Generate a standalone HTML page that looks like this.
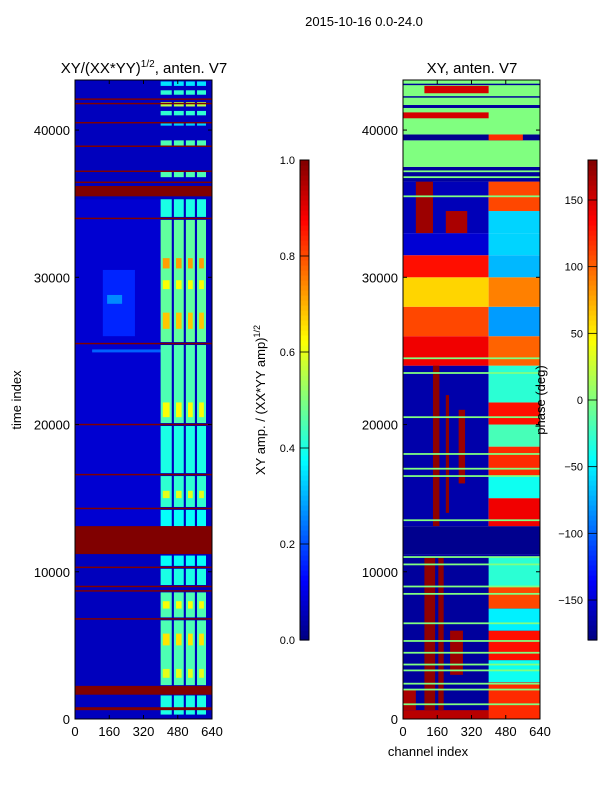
<!DOCTYPE html>
<html><head><meta charset="utf-8"><style>
body{margin:0;background:#fff;font-family:"Liberation Sans","DejaVu Sans",sans-serif}
svg text{font-family:"Liberation Sans","DejaVu Sans",sans-serif}
</style></head><body>
<svg id="fig" width="600" height="800" viewBox="0 0 600 800" xmlns="http://www.w3.org/2000/svg">
<rect width="600" height="800" fill="#fff"/>
<text x="364" y="26" font-size="13" text-anchor="middle">2015-10-16 0.0-24.0</text>
<text x="144" y="73" font-size="15" text-anchor="middle">XY/(XX*YY)<tspan font-size="10" dy="-6">1/2</tspan><tspan dy="6">, anten. V7</tspan></text>
<text x="472" y="73" font-size="15" text-anchor="middle">XY, anten. V7</text>
<text transform="translate(21,400) rotate(-90)" font-size="13" text-anchor="middle">time index</text>
<text x="428" y="756" font-size="13" text-anchor="middle">channel index</text>
<text transform="translate(265,400) rotate(-90)" font-size="13" text-anchor="middle">XY amp. / (XX*YY amp)<tspan font-size="9" dy="-5">1/2</tspan></text>
<g id="left"></g>
<g id="right"></g>
<text transform="translate(545,400) rotate(-90)" font-size="13" text-anchor="middle">phase (deg)</text>
<g id="cbars"></g>
</svg>
<script>
// ---- data ----
const tMax = 43400, chMax = 640;
const xTicks = [0,160,320,480,640];
const yTicks = [0,10000,20000,30000,40000];
const ampTicks = [0.0,0.2,0.4,0.6,0.8,1.0];
const phaseTicks = [-150,-100,-50,0,50,100,150];
// amplitude segments: [tStart,tEnd,chStart,chEnd,value]
const ampBase = [[0,43400,0,640,0.06],[13100,35300,0,400,0.08],[26000,30500,130,280,0.16],[28200,28800,150,220,0.26],[24900,25100,80,400,0.22]];
const ampCols = [[400,452],[462,508],[518,560],[570,612]];
const ampBands = [[300,1600,0.4],[2300,6700,0.45],[6900,8600,0.45],[9100,10200,0.4],[10400,11100,0.38],[13100,14200,0.38],[14400,16500,0.42],[16700,19900,0.4],[20100,25400,0.45],[25600,33900,0.47],[34100,35300,0.4],[36800,37200,0.45],[38900,39300,0.45],[40300,40500,0.33],[41000,41300,0.42],[41600,41900,0.55],[42400,42700,0.42],[43000,43300,0.35]];
const ampHot = [[5000,5800,0.65],[20500,21500,0.62],[26500,27600,0.68],[29200,29800,0.62],[30600,31300,0.72],[2800,3400,0.6],[7500,8000,0.62],[15000,15500,0.6]];
const ampRed = [[600,800],[1650,2250],[6750,6850],[8650,8750],[8950,9050],[10250,10350],[11200,13100],[14250,14350],[16550,16650],[19950,20050],[25450,25550],[33950,34050],[35500,36200],[36400,36500],[37150,37250],[38850,38950],[40450,40550],[41750,41850],[42050,42150]];
// phase segments (deg): [tStart,tEnd,chStart,chEnd,value]
const phaseSegs = [
[0,11200,0,640,-170],[11200,13100,0,640,-175],
[0,600,0,400,160],[0,2500,400,640,120],[2500,4000,400,640,-40],[4000,6000,400,640,130],[6000,7500,400,640,-50],[7500,9000,400,640,110],[9000,11000,400,640,-30],
[600,11000,100,150,175],[600,11000,165,190,175],[3000,6000,220,280,170],[600,2000,0,60,165],
[13100,24000,0,400,-165],[13100,15000,400,640,140],[15000,16500,400,640,-40],[16500,18500,400,640,120],[18500,20000,400,640,-20],[20000,21500,400,640,130],[21500,24000,400,640,-30],
[13100,24000,140,170,175],[14000,22000,200,215,175],[16000,21000,260,290,170],
[24000,26000,0,400,140],[26000,28000,0,400,110],[28000,30000,0,400,60],[30000,31500,0,400,130],[31500,33000,0,400,-150],
[24000,26000,400,640,100],[26000,28000,400,640,-80],[28000,30000,400,640,90],[30000,31500,400,640,-70],[31500,33000,400,640,-60],
[33000,36500,0,400,-160],[33000,36500,60,140,170],[33000,34500,200,300,165],[33000,34500,400,640,-60],[34500,36500,400,640,110],
[36500,37500,0,640,-170],[37500,39300,0,640,0],[39300,39700,0,640,-175],[39700,43400,0,640,0],
[39300,39700,400,560,120],[40800,41200,0,400,150],[42500,43000,100,400,150],[41500,41700,0,640,-170],[42200,42300,0,640,-170],[43050,43150,0,640,-170]];
const phaseLines = [1000,2000,2400,3300,3700,4500,5300,6500,8500,9000,10500,11000,13500,16500,17000,18000,20500,23500,24500,35500,36800,37200];

// ---- helpers ----
function jet(v){v=Math.max(0,Math.min(1,v));
 const c=x=>Math.round(255*Math.max(0,Math.min(1,x)));
 return `rgb(${c(Math.min(4*v-1.5,-4*v+4.5))},${c(Math.min(4*v-0.5,-4*v+3.5))},${c(Math.min(4*v+0.5,-4*v+2.5))})`;}
const NS='http://www.w3.org/2000/svg';
function mk(tag,attrs,parent){const e=document.createElementNS(NS,tag);for(const k in attrs)e.setAttribute(k,attrs[k]);parent.appendChild(e);return e;}
const Y0=719,Y1=80;
const ys=t=>Y0-(t/tMax)*(Y0-Y1);
function panel(g,x0,x1){return ch=>x0+(ch/chMax)*(x1-x0);}
function cell(g,xs,t0,t1,c0,c1,color,name){
 const r=mk('rect',{x:xs(c0),y:ys(t1),width:Math.max(0.5,xs(c1)-xs(c0)),height:Math.max(0.8,ys(t0)-ys(t1)),fill:color},g);
 
 
}
function axes(g,x0,x1){
 const xs=panel(g,x0,x1);
 mk('rect',{x:x0,y:Y1,width:x1-x0,height:Y0-Y1,fill:'none',stroke:'#000','stroke-width':1},g);
 xTicks.forEach(v=>{const x=xs(v);
  mk('line',{x1:x,x2:x,y1:Y0,y2:Y0-4,stroke:'#000'},g);mk('line',{x1:x,x2:x,y1:Y1,y2:Y1+4,stroke:'#000'},g);
  const t=mk('text',{x:x,y:Y0+17,'font-size':13,'text-anchor':'middle'},g);t.textContent=v;
  
  });
 yTicks.forEach(v=>{const y=ys(v);
  mk('line',{x1:x0,x2:x0+4,y1:y,y2:y,stroke:'#000'},g);mk('line',{x1:x1,x2:x1-4,y1:y,y2:y,stroke:'#000'},g);
  const t=mk('text',{x:x0-5,y:y+5,'font-size':13,'text-anchor':'end'},g);t.textContent=v;
  
  });
}
// left panel
const L=document.getElementById('left'), xl=panel(L,75,212);
ampBase.forEach(s=>cell(L,xl,s[0],s[1],s[2],s[3],jet(s[4]),'amp-background'));
ampBands.forEach(b=>ampCols.forEach(c=>cell(L,xl,b[0],b[1],c[0],c[1],jet(b[2]),'amp-band-cell')));
ampHot.forEach(b=>ampCols.forEach(c=>cell(L,xl,b[0],b[1],c[0]+10,c[1]-10,jet(b[2]),'amp-hot-cell')));
ampRed.forEach(b=>cell(L,xl,b[0],b[1],0,640,jet(1),'amp-flag-band'));
axes(L,75,212);
// right panel
const R=document.getElementById('right'), xr=panel(R,403,540);
phaseSegs.forEach(s=>cell(R,xr,s[0],s[1],s[2],s[3],jet((s[4]+180)/360),'phase-cell'));
phaseLines.forEach(t=>cell(R,xr,t-60,t+60,0,640,jet(0.5),'phase-line'));
axes(R,403,540);
// colorbars
const C=document.getElementById('cbars');
function cbar(x,ticks,vmin,vmax,fmt,name){
 const g=mk('g',{},C);
 const top=160,bot=640,N=96;
 for(let i=0;i<N;i++){mk('rect',{x:x,y:bot-(i+1)*(bot-top)/N,width:9,height:(bot-top)/N+0.6,fill:jet((i+0.5)/N)},g);}
 mk('rect',{x:x,y:top,width:9,height:bot-top,fill:'none',stroke:'#000'},g);
 ticks.forEach(v=>{const y=bot-(v-vmin)/(vmax-vmin)*(bot-top);
  mk('line',{x1:x,x2:x+9,y1:y,y2:y,stroke:'#000','stroke-width':0.8},g);
  const t=mk('text',{x:x-5,y:y+4,'font-size':11,'text-anchor':'end'},g);t.textContent=fmt(v);
  
  });
}
cbar(300,ampTicks,0,1,v=>v.toFixed(1),'amp-colorbar');
cbar(588,phaseTicks,-180,180,v=>v<0?'\u2212'+(-v):String(v),'phase-colorbar');
</script>
</body></html>
